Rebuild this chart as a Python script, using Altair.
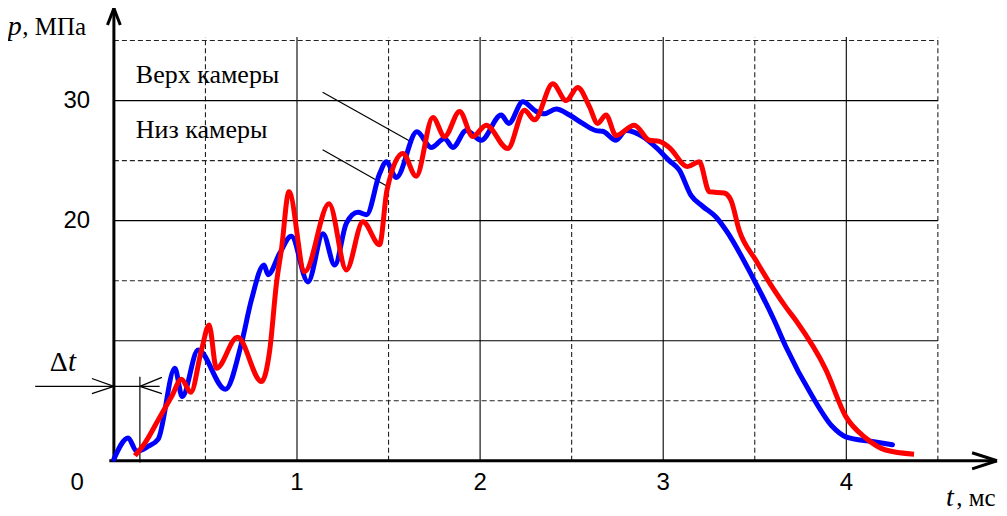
import altair as alt
import pandas as pd

# ---- data (t in ms, p in MPa) ----
blue_t = [0, 0.078, 0.124, 0.187, 0.242, 0.333, 0.373, 0.46, 0.609, 0.697, 0.751, 0.82, 0.842, 0.906,
          0.969, 1.06, 1.142, 1.206, 1.27, 1.333, 1.38, 1.451, 1.488, 1.542, 1.655, 1.733, 1.806, 1.851,
          1.924, 2.006, 2.115, 2.157, 2.233, 2.306, 2.351, 2.415, 2.488, 2.56, 2.633, 2.669, 2.742, 2.797,
          2.888, 2.961, 3.033, 3.088, 3.152, 3.215, 3.288, 3.343, 3.488, 3.606, 3.67, 3.815, 3.924, 3.997,
          4.142, 4.252]
blue_p = [0.14, 1.9, 0.8, 1.2, 1.8, 7.7, 5.35, 9.23, 5.96, 9.8, 13.4, 16.3, 15.5, 17.3,
          18.7, 14.9, 18.9, 16.3, 19.8, 20.7, 20.5, 23.9, 24.9, 23.6, 27.4, 26.1, 26.85, 26.1,
          27.5, 26.7, 28.8, 28.1, 29.9, 29.1, 28.9, 29.3, 28.8, 28.1, 27.5, 27.45, 26.7, 27.5,
          27.0, 26.1, 25.0, 24.2, 22.1, 21.2, 20.3, 19.2, 15.3, 11.7, 9.5, 5.35, 2.85, 2.0,
          1.6, 1.33]

red_t = [0.115, 0.169, 0.242, 0.315, 0.369, 0.42, 0.478, 0.52, 0.56, 0.675, 0.806, 0.851, 0.888, 0.915,
         0.956, 1.042, 1.175, 1.27, 1.36, 1.451, 1.491, 1.578, 1.651, 1.742, 1.806, 1.888, 1.96, 2.033,
         2.151, 2.242, 2.297, 2.397, 2.47, 2.533, 2.597, 2.642, 2.688, 2.742, 2.842, 2.924, 2.979, 3.033,
         3.133, 3.197, 3.252, 3.333, 3.37, 3.415, 3.506, 3.67, 3.724, 3.888, 3.997, 4.106, 4.215, 4.37]
red_p = [0.42, 1.47, 3.4, 5.35, 6.8, 5.7, 9.2, 11.3, 7.7, 10.3, 6.6, 9.2, 14.8, 17.6,
         22.4, 15.75, 21.4, 15.9, 19.9, 18.0, 22.5, 25.6, 23.7, 28.6, 27.0, 29.1, 27.0, 27.95,
         26.0, 29.2, 28.4, 31.4, 30.0, 31.1, 29.5, 28.1, 28.8, 27.1, 27.95, 26.7, 26.6, 26.1,
         24.5, 24.9, 22.4, 22.3, 21.7, 19.2, 16.7, 12.8, 11.7, 7.6, 3.7, 1.9, 0.9, 0.55]

x_tick_values = [0, 1, 2, 3, 4]
x_tick_labels = ["0", "1", "2", "3", "4"]
y_tick_values = [20, 30]
y_tick_labels = ["20", "30"]

grid_solid_x = [1, 2, 3, 4]
grid_dashed_x = [0.5, 1.5, 2.5, 3.5, 4.5]
grid_solid_y = [10, 20, 30]
grid_dashed_y = [5, 15, 25, 35]

legend_labels = ["Верх камеры", "Низ камеры"]

# ---- scales ----
X_MAX = 4.823
Y_MAX = 37.69
xs = alt.Scale(domain=[0, X_MAX], nice=False, zero=False)
ys = alt.Scale(domain=[0, Y_MAX], nice=False, zero=False)


def X(f="x"):
    return alt.X(f"{f}:Q", scale=xs, axis=None)


def Y(f="y"):
    return alt.Y(f"{f}:Q", scale=ys, axis=None)


def segs(rows):
    return pd.DataFrame(rows, columns=["x", "y", "x2", "y2"])


def seg_layer(df, width=1.0, dash=None, color="#000000"):
    kw = dict(stroke=color, strokeWidth=width)
    if dash:
        kw["strokeDash"] = dash
    return alt.Chart(df).mark_rule(**kw).encode(
        x=X("x"), y=Y("y"), x2="x2:Q", y2="y2:Q")


grid_top = 35.3
solid_rows = [[v, 0, v, grid_top] for v in grid_solid_x] + \
             [[0, v, 4.5, v] for v in grid_solid_y]
dashed_rows = [[v, 0, v, grid_top] for v in grid_dashed_x] + \
              [[0.35 if v == 5 else 0, v, 4.5, v] for v in grid_dashed_y]

axis_rows = [[-0.025, 0, X_MAX, 0], [0, 0, 0, Y_MAX],
             # x arrow
             [X_MAX, 0, X_MAX - 0.136, 0.67], [X_MAX, 0, X_MAX - 0.136, -0.67],
             # y arrow
             [0, Y_MAX, -0.035, Y_MAX - 1.4], [0, Y_MAX, 0.035, Y_MAX - 1.4]]

thin_rows = [
    # leader lines
    [1.14, 30.7, 1.62, 26.6],
    [1.14, 25.9, 1.5, 22.8],
    # delta t dimension
    [-0.43, 6.2, 0.25, 6.2],
    [0.0, 6.2, -0.12, 6.85], [0.0, 6.2, -0.12, 5.6],
    [0.142, 6.2, 0.262, 6.95], [0.142, 6.2, 0.262, 5.6],
    [0.142, 7.0, 0.142, -0.15],
]

blue_df = pd.DataFrame({"x": blue_t, "y": blue_p})
red_df = pd.DataFrame({"x": red_t, "y": red_p})

blue = alt.Chart(blue_df).mark_line(color="#0000ff", strokeWidth=5, interpolate="monotone",
                                    strokeCap="round").encode(x=X(), y=Y(), order="x:Q")
red = alt.Chart(red_df).mark_line(color="#ff0000", strokeWidth=5, interpolate="monotone",
                                  strokeCap="butt").encode(x=X(), y=Y(), order="x:Q")


def text_layer(df, **kw):
    return alt.Chart(df).mark_text(**kw).encode(x=X("x"), y=Y("y"), text="label:N")


xt = pd.DataFrame({"x": [-0.2, 1, 2, 3, 4], "y": [-1.85] * 5, "label": x_tick_labels})
yt = pd.DataFrame({"x": [-0.13, -0.13], "y": y_tick_values, "label": y_tick_labels})
leg = pd.DataFrame({"x": [0.12, 0.12], "y": [31.5, 26.9], "label": legend_labels})

tick_font = dict(font="Liberation Sans", fontSize=24, color="#000000")
serif = "Liberation Serif"

layers = [
    seg_layer(segs(dashed_rows), 1.1, [5, 3], "#222222"),
    seg_layer(segs(solid_rows), 1.1),
    seg_layer(segs(thin_rows), 1.2),
    seg_layer(segs(axis_rows), 3),
    blue, red,
    text_layer(xt, align="center", baseline="middle", **tick_font),
    text_layer(yt, align="right", baseline="middle", **tick_font),
    text_layer(leg, align="left", baseline="alphabetic", font=serif, fontSize=26, color="#000000"),
    # axis titles and delta t
    text_layer(pd.DataFrame({"x": [-0.58], "y": [35.5], "label": ["p"]}),
               align="left", baseline="alphabetic", font=serif, fontSize=28, fontStyle="italic"),
    text_layer(pd.DataFrame({"x": [-0.5], "y": [35.5], "label": [", МПа"]}),
               align="left", baseline="alphabetic", font=serif, fontSize=25),
    text_layer(pd.DataFrame({"x": [4.545], "y": [-3.8], "label": ["t"]}),
               align="left", baseline="alphabetic", font=serif, fontSize=28, fontStyle="italic"),
    text_layer(pd.DataFrame({"x": [4.6], "y": [-3.8], "label": [", мс"]}),
               align="left", baseline="alphabetic", font=serif, fontSize=25),
    text_layer(pd.DataFrame({"x": [-0.35], "y": [7.5], "label": ["Δ"]}),
               align="left", baseline="alphabetic", font=serif, fontSize=28),
    text_layer(pd.DataFrame({"x": [-0.25], "y": [7.5], "label": ["t"]}),
               align="left", baseline="alphabetic", font=serif, fontSize=29, fontStyle="italic"),
]

chart = alt.layer(*layers).properties(
    width=884, height=453,
    autosize=alt.AutoSizeParams(type="none"),
    padding={"left": 106, "top": 0, "right": 2, "bottom": 50},
    background="white",
).configure_view(stroke=None)

chart.save("out.html", embed_options={"renderer": "svg", "actions": False})
